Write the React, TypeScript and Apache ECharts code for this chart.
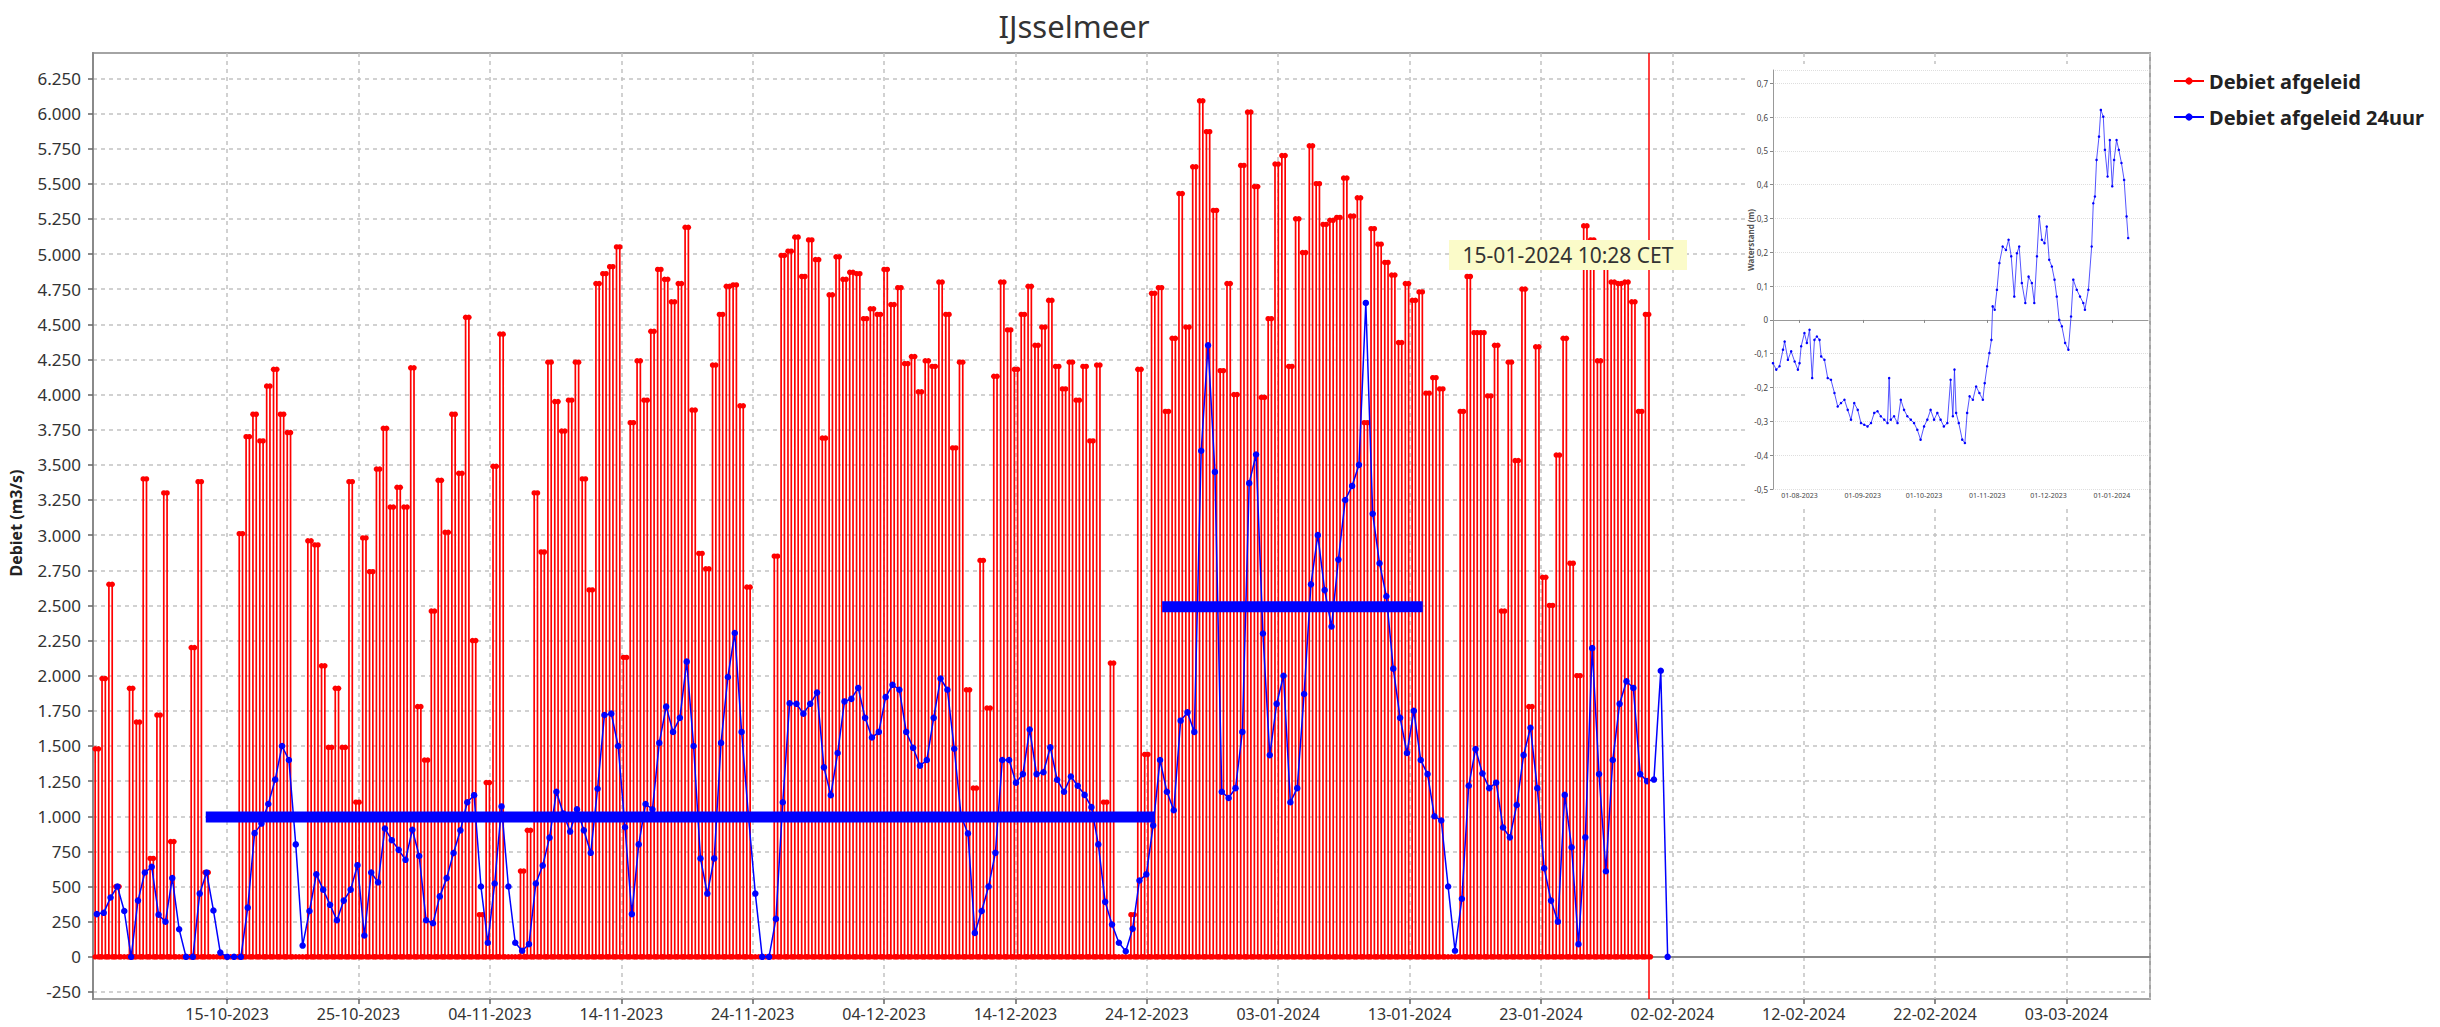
import React, { useEffect, useRef } from 'react';
import * as echarts from 'echarts';

const FONT = '"Noto Sans", "Open Sans", "DejaVu Sans", sans-serif';
const HOUR = 3600 * 1000;
const DAY = 24 * HOUR;

// ---------------- data ----------------
const TITLE = 'IJsselmeer';
const Y_NAME = 'Debiet (m3/s)';
const SERIES_RED = 'Debiet afgeleid';
const SERIES_BLUE = 'Debiet afgeleid 24uur';
const CURSOR_LABEL = '15-01-2024 10:28 CET';

// one discharge pulse per tide, starting at START_TIME, every STEP_HOURS
const START_TIME = Date.UTC(2023, 9, 5, 2, 0);
const STEP_HOURS = 12.53;

const RED_PEAKS = [
  1480, 1980, 2650, 500, 0, 1910, 1670, 3400, 700, 1720,
  3300, 820, 0, 0, 2200, 3380, 600, 0, 0, 0,
  0, 3010, 3700, 3860, 3670, 4060, 4180, 3860, 3730, 0,
  0, 2960, 2930, 2070, 1490, 1910, 1490, 3380, 1100, 2980,
  2740, 3470, 3760, 3200, 3340, 3200, 4190, 1780, 1400, 2460,
  3390, 3020, 3860, 3440, 4550, 2250, 300, 1240, 3490, 4430,
  0, 0, 610, 900, 3300, 2880, 4230, 3950, 3740, 3960,
  4230, 3400, 2610, 4790, 4860, 4910, 5050, 2130, 3800, 4240,
  3960, 4450, 4890, 4820, 4660, 4790, 5190, 3890, 2870, 2760,
  4210, 4570, 4770, 4780, 3920, 2630, 0, 0, 0, 2850,
  4990, 5020, 5120, 4840, 5100, 4960, 3690, 4710, 4980, 4820,
  4870, 4860, 4540, 4610, 4570, 4890, 4640, 4760, 4220, 4270,
  4020, 4240, 4200, 4800, 4570, 3620, 4230, 1900, 1200, 2820,
  1770, 4130, 4800, 4460, 4180, 4570, 4770, 4350, 4480, 4670,
  4200, 4040, 4230, 3960, 4200, 3670, 4210, 1100, 2090, 0,
  0, 300, 4180, 1440, 4720, 4760, 3880, 4400, 5430, 4480,
  5620, 6090, 5870, 5310, 4170, 4790, 4000, 5630, 6010, 5480,
  3980, 4540, 5640, 5700, 4200, 5250, 5010, 5770, 5500, 5210,
  5240, 5260, 5540, 5270, 5400, 3800, 5180, 5070, 4940, 4850,
  4370, 4790, 4670, 4730, 4010, 4120, 4040, 0, 0, 3880,
  4840, 4440, 4440, 3990, 4350, 2460, 4230, 3530, 4750, 1780,
  4340, 2700, 2500, 3570, 4400, 2800, 2000, 5200, 5100, 4240,
  4940, 4800, 4790, 4800, 4660, 3880, 4570,
];

const BLUE_24H = [
  304, 313, 422, 500, 326, 0, 400, 600, 640, 300,
  250, 560, 196, 0, 0, 450, 600, 330, 30, 0,
  0, 0, 350, 880, 948, 1087, 1261, 1500, 1400, 800,
  80, 326, 587, 478, 370, 260, 400, 478, 652, 152,
  600, 530, 913, 830, 761, 690, 904, 717, 260, 239,
  430, 560, 739, 900, 1100, 1150, 500, 100, 522, 1070,
  500, 100, 43, 90, 522, 650, 848, 1174, 1020, 891,
  1050, 900, 740, 1196, 1720, 1730, 1500, 922, 304, 800,
  1087, 1050, 1522, 1780, 1600, 1700, 2100, 1500, 700, 450,
  700, 1522, 1991, 2304, 1600, 1000, 450, 0, 0, 270,
  1100, 1804, 1800, 1730, 1800, 1880, 1348, 1150, 1450, 1817,
  1835, 1913, 1700, 1560, 1600, 1848, 1935, 1900, 1600, 1487,
  1360, 1400, 1700, 1980, 1900, 1480, 1000, 878, 170, 326,
  500, 740, 1400, 1400, 1239, 1300, 1617, 1300, 1313, 1490,
  1260, 1174, 1283, 1217, 1152, 1065, 800, 391, 230, 100,
  40, 200, 543, 587, 935, 1400, 1174, 1043, 1680, 1739,
  1600, 3600, 4350, 3450, 1174, 1130, 1200, 1600, 3370, 3574,
  2300, 1435, 1800, 2000, 1100, 1200, 1870, 2650, 3000, 2609,
  2350, 2826, 3250, 3350, 3500, 4652, 3152, 2800, 2565, 2050,
  1700, 1450, 1750, 1400, 1300, 1000, 970, 500, 43, 413,
  1217, 1478, 1304, 1200, 1239, 920, 850, 1080, 1435, 1630,
  1200, 630, 400, 250, 1152, 780, 90, 850, 2196, 1300,
  609, 1400, 1800, 1960, 1913, 1300, 1250, 1261, 2035, 0,
];

const AVG_FROM = [Date.UTC(2023, 9, 13, 9), Date.UTC(2023, 11, 25, 4)];
const AVG_TO = [Date.UTC(2023, 11, 24, 15), Date.UTC(2024, 0, 14, 0)];
const AVG_VALUE = [995, 2490];
const CURSOR_TIME = Date.UTC(2024, 0, 31, 5);

const X_FIRST_TICK = Date.UTC(2023, 9, 15);
const X_TICK_STEP_DAYS = 10;
const Y_TICK_MIN = -250;
const Y_TICK_MAX = 6250;
const Y_TICK_STEP = 250;

// inset: water level (m), days after 01-08-2023
const INSET_ORIGIN = Date.UTC(2023, 7, 1);
const INSET_Y_NAME = 'Waterstand (m)';
const INSET_DAYS = [
  -13.0, -11.4, -9.8, -8.1, -7.3, -5.7, -4.1, -2.4, -0.8, 0,
  0.8, 2.4, 3.6, 4.9, 6.2, 7.3, 8.5, 9.8, 10.6, 12.2,
  13.8, 15.4, 17.1, 18.7, 20.3, 22.0, 23.6, 25.2, 26.8, 28.5,
  30.1, 31.7, 33.3, 35.0, 36.6, 38.2, 39.8, 41.5, 43.1, 43.9,
  44.7, 46.3, 48.0, 49.6, 51.2, 52.8, 54.5, 56.1, 57.7, 59.3,
  61.0, 62.6, 64.2, 65.9, 67.5, 69.1, 70.7, 72.4, 74.0, 75.1,
  75.9, 76.7, 78.0, 79.7, 81.0, 82.1, 83.3, 84.9, 86.5, 88.1,
  89.8, 90.7, 91.9, 93.0, 94.0, 94.6, 95.6, 96.7, 97.9, 99.5,
  101.1, 102.4, 103.7, 105.2, 106.5, 107.6, 108.9, 110.6, 112.2, 113.8,
  115.0, 116.3, 117.4, 118.7, 120.0, 121.1, 122.3, 123.6, 124.9, 126.0,
  127.2, 128.5, 130.1, 131.7, 133.0, 134.1, 135.8, 137.4, 139.0, 139.8,
  141.5, 143.1, 143.9, 144.7, 145.5, 146.7, 147.6, 148.8, 149.6, 150.9,
  152.0, 153.2, 154.1, 155.3, 156.4, 157.7, 159.0, 160.2, 161.0,
];
const INSET_LEVEL = [
  -0.128, -0.147, -0.137, -0.088, -0.064, -0.118, -0.093, -0.123, -0.147, -0.128,
  -0.078, -0.039, -0.068, -0.029, -0.172, -0.059, -0.049, -0.059, -0.108, -0.118,
  -0.172, -0.177, -0.216, -0.256, -0.246, -0.236, -0.266, -0.295, -0.246, -0.266,
  -0.305, -0.31, -0.315, -0.305, -0.275, -0.27, -0.285, -0.295, -0.305, -0.172,
  -0.295, -0.285, -0.305, -0.236, -0.266, -0.285, -0.295, -0.305, -0.325, -0.354,
  -0.315, -0.295, -0.266, -0.295, -0.275, -0.295, -0.315, -0.305, -0.177, -0.285,
  -0.147, -0.275, -0.305, -0.354, -0.364, -0.275, -0.226, -0.236, -0.197, -0.216,
  -0.236, -0.187, -0.137, -0.098, -0.059, 0.04, 0.03, 0.089, 0.168, 0.217,
  0.207, 0.237, 0.188, 0.069, 0.197, 0.217, 0.109, 0.05, 0.128, 0.109,
  0.05, 0.188, 0.306, 0.237, 0.227, 0.276, 0.178, 0.158, 0.119, 0.069,
  0.0, -0.019, -0.068, -0.088, 0.01, 0.119, 0.089, 0.069, 0.05, 0.03,
  0.089, 0.217, 0.345, 0.365, 0.473, 0.542, 0.621, 0.601, 0.503, 0.424,
  0.532, 0.395, 0.473, 0.532, 0.503, 0.464, 0.414, 0.306, 0.242,
];
const INSET_MONTHS = [
  Date.UTC(2023, 7, 1), Date.UTC(2023, 8, 1), Date.UTC(2023, 9, 1),
  Date.UTC(2023, 10, 1), Date.UTC(2023, 11, 1), Date.UTC(2024, 0, 1),
];
const INSET_CURSOR_DAY = 161;

// ---------------- layout ----------------
const PLOT_L = 93, PLOT_R = 2150, PLOT_T = 53, PLOT_B = 999;
const X_MIN = Date.UTC(2023, 9, 4, 19);
const X_MAX = Date.UTC(2024, 2, 9, 8, 30);
const Y_MIN = -300, Y_MAX = 6430;
const INSET = { left: 1773, top: 70, width: 375, height: 419 };
const INSET_X_MIN = INSET_ORIGIN - 13 * DAY;
const INSET_X_MAX = INSET_ORIGIN + 170.7 * DAY;
const INSET_Y_MIN = -0.5, INSET_Y_MAX = 0.739;
const PULSE_HALF_H = 3; // half width of a drawn discharge pulse, hours

const pad = (n: number) => (n < 10 ? '0' : '') + n;
const fmtDate = (v: number) => {
  const d = new Date(v);
  return `${pad(d.getUTCDate())}-${pad(d.getUTCMonth() + 1)}-${d.getUTCFullYear()}`;
};
const fmtNum = (v: number) => {
  const s = String(Math.round(Math.abs(v)));
  return (v < 0 ? '-' : '') + s.replace(/\B(?=(\d{3})+(?!\d))/g, '.');
};
const fmtDec = (v: number) => {
  const r = Math.round(v * 10) / 10;
  if (r === 0) return '0';
  return r.toFixed(1).replace('.', ',');
};

function buildOption() {
  const pxPerMs = (PLOT_R - PLOT_L) / (X_MAX - X_MIN);
  const pxPerUnit = (PLOT_B - PLOT_T) / (Y_MAX - Y_MIN);
  const gridBLeft = PLOT_L + (X_FIRST_TICK - X_MIN) * pxPerMs;
  const gridCTop = PLOT_T + (Y_MAX - Y_TICK_MAX) * pxPerUnit;
  const gridCH = (Y_TICK_MAX - Y_TICK_MIN) * pxPerUnit;

  const redPoints: number[][] = [];
  RED_PEAKS.forEach((p, k) => {
    const t = START_TIME + k * STEP_HOURS * HOUR;
    const h = PULSE_HALF_H * HOUR;
    if (p > 0) {
      redPoints.push([t - h - 0.1 * HOUR, 0], [t - h, p], [t + h, p], [t + h + 0.1 * HOUR, 0]);
    } else {
      redPoints.push([t, 0]);
    }
    redPoints.push([t + 6.3 * HOUR, 0]);
  });
  const bluePoints = BLUE_24H.map((v, k) => [START_TIME + k * STEP_HOURS * HOUR, v]);
  const insetPoints = INSET_DAYS.map((d, i) => [INSET_ORIGIN + d * DAY, INSET_LEVEL[i]]);

  const gridCommon = { containLabel: false, outerBoundsMode: 'none' };
  const dash = { color: '#c2c2c2', type: [4, 4], width: 1.5 };

  return {
    animation: false,
    backgroundColor: '#ffffff',
    textStyle: { fontFamily: FONT },
    grid: [
      { ...gridCommon, left: PLOT_L, top: PLOT_T, width: PLOT_R - PLOT_L, height: PLOT_B - PLOT_T, show: true, borderColor: '#a4a4a4', borderWidth: 2, backgroundColor: 'transparent' },
      { ...gridCommon, left: gridBLeft, top: PLOT_T, width: PLOT_R - gridBLeft, height: PLOT_B - PLOT_T },
      { ...gridCommon, left: PLOT_L, top: gridCTop, width: PLOT_R - PLOT_L, height: gridCH },
      { ...gridCommon, left: INSET.left, top: INSET.top, width: INSET.width, height: INSET.height },
    ],
    xAxis: [
      {
        type: 'value', gridIndex: 0, min: X_MIN, max: X_MAX, position: 'bottom',
        axisLine: { show: true, lineStyle: { color: '#8a8a8a', width: 2 } },
        axisTick: { show: false }, axisLabel: { show: false }, splitLine: { show: false },
      },
      {
        type: 'value', gridIndex: 1, min: X_FIRST_TICK, max: X_MAX, interval: X_TICK_STEP_DAYS * DAY, position: 'bottom',
        axisLine: { show: false },
        axisTick: { show: true, length: 5, lineStyle: { color: '#666', width: 1.5 } },
        axisLabel: { show: true, fontSize: 16, lineHeight: 18, color: '#333', margin: 6, formatter: fmtDate, showMaxLabel: false, fontFamily: FONT },
        splitLine: { show: true, lineStyle: dash },
      },
      { type: 'value', gridIndex: 2, min: 0, max: 1, show: false },
      {
        type: 'value', gridIndex: 3, min: INSET_X_MIN, max: INSET_X_MAX, z: 10, position: 'bottom',
        axisLine: { show: true, lineStyle: { color: '#999', width: 1 } },
        axisTick: { show: true, length: 3, customValues: INSET_MONTHS, lineStyle: { color: '#888' } },
        axisLabel: { show: true, fontSize: 7, color: '#444', margin: 3, customValues: INSET_MONTHS, formatter: fmtDate, fontFamily: FONT },
        splitLine: { show: false },
      },
    ],
    yAxis: [
      {
        type: 'value', gridIndex: 0, min: Y_MIN, max: Y_MAX, position: 'left',
        axisLine: { show: true, lineStyle: { color: '#8a8a8a', width: 2 } },
        axisTick: { show: false }, axisLabel: { show: false }, splitLine: { show: false },
      },
      { type: 'value', gridIndex: 1, min: 0, max: 1, show: false },
      {
        type: 'value', gridIndex: 2, min: Y_TICK_MIN, max: Y_TICK_MAX, interval: Y_TICK_STEP, position: 'left',
        axisLine: { show: false },
        axisTick: { show: true, length: 5, lineStyle: { color: '#666', width: 1.5 } },
        axisLabel: { show: true, fontSize: 17, color: '#333', margin: 12, formatter: fmtNum, fontFamily: FONT },
        splitLine: { show: true, lineStyle: dash },
      },
      {
        type: 'value', gridIndex: 3, min: INSET_Y_MIN, max: INSET_Y_MAX, interval: 0.1, z: 10, position: 'left',
        axisLine: { show: true, lineStyle: { color: '#999', width: 1 } },
        axisTick: { show: true, length: 3, lineStyle: { color: '#888' } },
        axisLabel: { show: true, fontSize: 8, color: '#444', margin: 5, formatter: fmtDec, showMaxLabel: false, fontFamily: FONT },
        splitLine: { show: true, lineStyle: { color: '#dedede', type: 'dotted', width: 1 } },
      },
    ],
    legend: {
      data: [SERIES_RED, SERIES_BLUE],
      orient: 'vertical', left: 2168, top: 66,
      itemWidth: 30, itemHeight: 9, itemGap: 16,
      selectedMode: false,
      textStyle: { fontSize: 20, fontWeight: 'bold', color: '#222', fontFamily: FONT },
    },
    series: [
      {
        type: 'line', name: SERIES_RED, xAxisIndex: 0, yAxisIndex: 0, data: redPoints,
        symbol: 'circle', symbolSize: 5.5, showAllSymbol: true, silent: true, z: 2,
        lineStyle: { color: '#ff0000', width: 1.7 }, itemStyle: { color: '#ff0000' },
        emphasis: { disabled: true },
        markLine: {
          silent: true, symbol: 'none', label: { show: false },
          lineStyle: { color: '#ff0000', width: 1.5, type: 'solid' },
          data: [{ xAxis: CURSOR_TIME }],
        },
      },
      {
        type: 'line', name: SERIES_BLUE, xAxisIndex: 0, yAxisIndex: 0, data: bluePoints,
        symbol: 'circle', symbolSize: 6.5, showAllSymbol: true, silent: true, z: 3,
        lineStyle: { color: '#0000ff', width: 1.5 }, itemStyle: { color: '#0000ff' },
        emphasis: { disabled: true },
      },
      ...AVG_VALUE.map((v, i) => ({
        type: 'line', name: 'gemiddelde ' + (i + 1), xAxisIndex: 0, yAxisIndex: 0,
        data: [[AVG_FROM[i], v], [AVG_TO[i], v]],
        symbol: 'none', silent: true, z: 4,
        lineStyle: { color: '#0000ff', width: 11, cap: 'butt' },
        emphasis: { disabled: true },
      })),
      {
        type: 'line', name: INSET_Y_NAME, xAxisIndex: 3, yAxisIndex: 3, data: insetPoints,
        symbol: 'circle', symbolSize: 2.5, showAllSymbol: true, silent: true, z: 10,
        lineStyle: { color: '#2a2aff', width: 0.8 }, itemStyle: { color: '#0000ff' },
        emphasis: { disabled: true },
        markLine: {
          silent: true, symbol: 'none', label: { show: false },
          data: [
            ...INSET_MONTHS.map((t) => ({ xAxis: t, lineStyle: { color: '#d0d0d0', type: 'dotted', width: 1 } })),
            { xAxis: INSET_ORIGIN + INSET_CURSOR_DAY * DAY, lineStyle: { color: '#f05a5a', type: 'solid', width: 1.5 } },
          ],
        },
      },
    ],
    graphic: {
      elements: [
        {
          type: 'text', x: 1074, y: 26, z: 10,
          style: { text: TITLE, fontSize: 31, fontFamily: FONT, fill: '#333', textAlign: 'center', textVerticalAlign: 'middle' },
        },
        {
          type: 'text', x: 16, y: 523, rotation: Math.PI / 2, z: 10,
          style: { text: Y_NAME, fontSize: 16, fontWeight: 'bold', fontFamily: FONT, fill: '#222', textAlign: 'center', textVerticalAlign: 'middle' },
        },
        {
          type: 'rect', z: 6, shape: { x: 1745, y: 64, width: 403, height: 442 },
          style: { fill: '#ffffff' },
        },
        {
          type: 'text', x: 1750, y: 240, rotation: Math.PI / 2, z: 11,
          style: { text: INSET_Y_NAME, fontSize: 8, fontWeight: 'bold', fontFamily: FONT, fill: '#555', textAlign: 'center', textVerticalAlign: 'middle' },
        },
        {
          type: 'rect', z: 20, shape: { x: 1449, y: 240, width: 238, height: 30 },
          style: { fill: '#fbfbc9' },
        },
        {
          type: 'text', x: 1568, y: 255, z: 21,
          style: { text: CURSOR_LABEL, fontSize: 21, fontFamily: FONT, fill: '#333', textAlign: 'center', textVerticalAlign: 'middle' },
        },
      ],
    },
  };
}

export default function App() {
  const ref = useRef<HTMLDivElement>(null);
  useEffect(() => {
    document.body.style.margin = '0';
    const chart = echarts.init(ref.current as HTMLDivElement, undefined, { renderer: 'svg' });
    chart.setOption(buildOption() as any);
    return () => chart.dispose();
  }, []);
  return (
    <div
      ref={ref}
      style={{ position: 'absolute', left: 0, top: 0, width: 2440, height: 1027, background: '#fff' }}
    />
  );
}
